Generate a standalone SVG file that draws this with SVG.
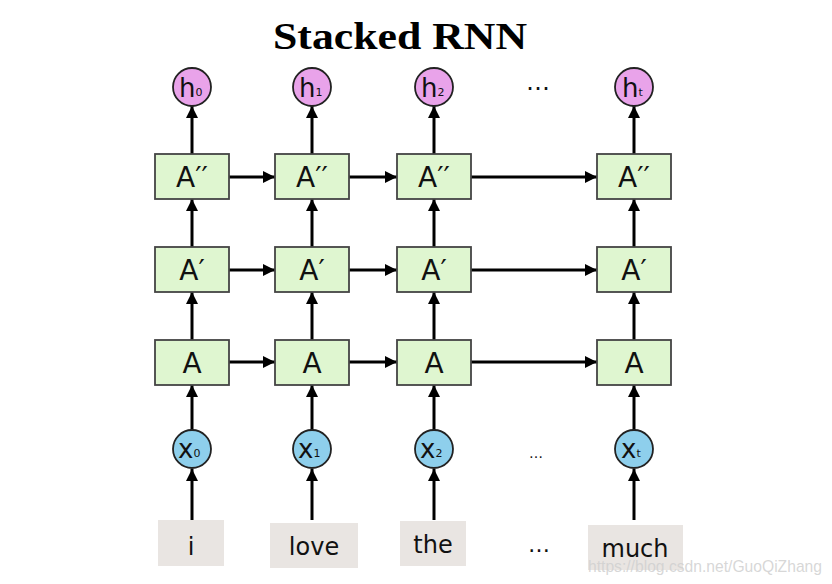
<svg xmlns="http://www.w3.org/2000/svg" width="832" height="584" viewBox="0 0 832 584">
<defs>
<marker id="ah" viewBox="0 0 10 10" refX="10" refY="5" markerWidth="12" markerHeight="12" markerUnits="userSpaceOnUse" orient="auto">
<path d="M0,0 L10,5 L0,10 z" fill="#000"/>
</marker>
<style>
.box{fill:#dff6d0;stroke:#444;stroke-width:1.8}
.hc{fill:#e9a3ea;stroke:#222;stroke-width:1.8}
.xc{fill:#8ecfec;stroke:#222;stroke-width:1.8}
.wb{fill:#e9e5e2}
.lbl{font-family:"DejaVu Sans",sans-serif;font-size:28px;fill:#111;text-anchor:middle}
.cl{font-family:"DejaVu Sans",sans-serif;font-size:26px;fill:#111}
.sub{font-size:11px}
.wd{font-family:"DejaVu Sans",sans-serif;font-size:24px;fill:#111;text-anchor:middle}
.ln{stroke:#000;stroke-width:3;fill:none;marker-end:url(#ah)}
.dots{font-family:"DejaVu Sans",sans-serif;fill:#111;text-anchor:middle}
</style>
</defs>
<rect width="832" height="584" fill="#fff"/>
<text x="400" y="49" font-family="Liberation Serif,serif" font-weight="bold" font-size="38" text-anchor="middle" textLength="254" lengthAdjust="spacingAndGlyphs">Stacked RNN</text>

<g id="connectors">
<path class="ln" d="M192,520 V469"/><path class="ln" d="M312,520 V469"/><path class="ln" d="M434,520 V469"/><path class="ln" d="M634,520 V469"/>
<path class="ln" d="M192,430 V385"/><path class="ln" d="M312,430 V385"/><path class="ln" d="M434,430 V385"/><path class="ln" d="M634,430 V385"/>
<path class="ln" d="M192,340 V292"/><path class="ln" d="M312,340 V292"/><path class="ln" d="M434,340 V292"/><path class="ln" d="M634,340 V292"/>
<path class="ln" d="M192,247 V199"/><path class="ln" d="M312,247 V199"/><path class="ln" d="M434,247 V199"/><path class="ln" d="M634,247 V199"/>
<path class="ln" d="M192,154 V106"/><path class="ln" d="M312,154 V106"/><path class="ln" d="M434,154 V106"/><path class="ln" d="M634,154 V106"/>
<path class="ln" d="M229,177 H275"/><path class="ln" d="M349,177 H397"/><path class="ln" d="M471,177 H597"/>
<path class="ln" d="M229,270 H275"/><path class="ln" d="M349,270 H397"/><path class="ln" d="M471,270 H597"/>
<path class="ln" d="M229,362 H275"/><path class="ln" d="M349,362 H397"/><path class="ln" d="M471,362 H597"/>
</g>

<g id="h0"><circle class="hc" cx="192" cy="87" r="19"/><text class="cl" x="179" y="97">h<tspan class="sub" dy="-1">0</tspan></text></g>
<g id="h1"><circle class="hc" cx="312" cy="87" r="19"/><text class="cl" x="299" y="97">h<tspan class="sub" dy="-1">1</tspan></text></g>
<g id="h2"><circle class="hc" cx="434" cy="87" r="19"/><text class="cl" x="421" y="97">h<tspan class="sub" dy="-1">2</tspan></text></g>
<g id="ht"><circle class="hc" cx="634" cy="87" r="19"/><text class="cl" x="622" y="97">h<tspan class="sub" dy="-1">t</tspan></text></g>
<g id="dots-top"><text class="dots" x="538" y="90" font-size="24">…</text></g>

<g id="A2-0"><rect class="box" x="155" y="154" width="74" height="45"/><text class="lbl" x="192" y="187">A′′</text></g>
<g id="A2-1"><rect class="box" x="275" y="154" width="74" height="45"/><text class="lbl" x="312" y="187">A′′</text></g>
<g id="A2-2"><rect class="box" x="397" y="154" width="74" height="45"/><text class="lbl" x="434" y="187">A′′</text></g>
<g id="A2-t"><rect class="box" x="597" y="154" width="74" height="45"/><text class="lbl" x="634" y="187">A′′</text></g>

<g id="A1-0"><rect class="box" x="155" y="247" width="74" height="45"/><text class="lbl" x="192" y="280">A′</text></g>
<g id="A1-1"><rect class="box" x="275" y="247" width="74" height="45"/><text class="lbl" x="312" y="280">A′</text></g>
<g id="A1-2"><rect class="box" x="397" y="247" width="74" height="45"/><text class="lbl" x="434" y="280">A′</text></g>
<g id="A1-t"><rect class="box" x="597" y="247" width="74" height="45"/><text class="lbl" x="634" y="280">A′</text></g>

<g id="A0-0"><rect class="box" x="155" y="340" width="74" height="45"/><text class="lbl" x="192" y="373">A</text></g>
<g id="A0-1"><rect class="box" x="275" y="340" width="74" height="45"/><text class="lbl" x="312" y="373">A</text></g>
<g id="A0-2"><rect class="box" x="397" y="340" width="74" height="45"/><text class="lbl" x="434" y="373">A</text></g>
<g id="A0-t"><rect class="box" x="597" y="340" width="74" height="45"/><text class="lbl" x="634" y="373">A</text></g>

<g id="x0"><circle class="xc" cx="192" cy="449" r="19"/><text class="cl" x="178" y="458">x<tspan class="sub" dy="-1">0</tspan></text></g>
<g id="x1"><circle class="xc" cx="312" cy="449" r="19"/><text class="cl" x="298" y="458">x<tspan class="sub" dy="-1">1</tspan></text></g>
<g id="x2"><circle class="xc" cx="434" cy="449" r="19"/><text class="cl" x="420" y="458">x<tspan class="sub" dy="-1">2</tspan></text></g>
<g id="xt"><circle class="xc" cx="634" cy="449" r="19"/><text class="cl" x="621" y="458">x<tspan class="sub" dy="-1">t</tspan></text></g>
<g id="dots-x"><text class="dots" x="536" y="458" font-size="14">…</text></g>

<g id="w-i"><rect class="wb" x="158" y="520" width="66" height="46"/><text class="wd" x="191" y="555">i</text></g>
<g id="w-love"><rect class="wb" x="270" y="523" width="88" height="45"/><text class="wd" x="314" y="555">love</text></g>
<g id="w-the"><rect class="wb" x="400" y="521" width="66" height="45"/><text class="wd" x="433" y="553">the</text></g>
<g id="w-dots"><text class="dots" x="539" y="552" font-size="22">…</text></g>
<g id="w-much"><rect class="wb" x="588" y="525" width="95" height="45"/><text class="wd" x="635" y="557">much</text></g>

<text x="588" y="572" font-family="Liberation Sans,sans-serif" font-size="17" fill="#d0d0d0" fill-opacity="0.85" textLength="234" lengthAdjust="spacingAndGlyphs">https://blog.csdn.net/GuoQiZhang</text>
</svg>
